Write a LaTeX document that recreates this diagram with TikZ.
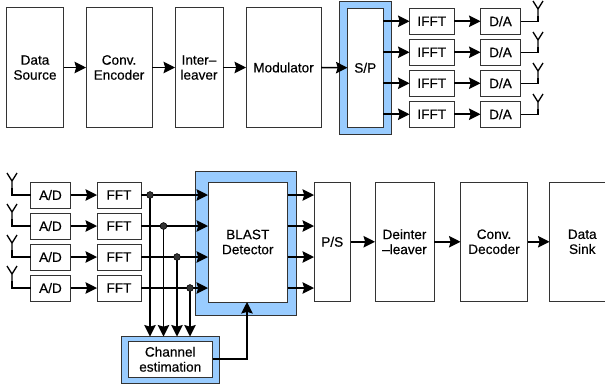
\documentclass[tikz,border=0pt]{standalone}
\usepackage{fontspec}
\setmainfont[FakeBold=0.35]{Liberation Sans}
\usetikzlibrary{arrows.meta}
\definecolor{panel}{HTML}{99CCFF}
\definecolor{edge}{HTML}{333333}
\tikzset{
  blockbox/.style={draw=edge,line width=0.75pt,fill=white,inner sep=0pt,outer sep=0pt,align=center,font=\fontsize{10.2}{11.25}\selectfont},
  panelbox/.style={blockbox,fill=panel},
  flow/.style={draw=black,line width=1.15pt,-{Stealth[length=8.6pt,width=8.6pt,inset=1.2pt]}},
  aerial/.style={draw=black,line width=1pt},
  joint/.style={circle,fill=edge,draw=black,line width=0.3pt,minimum size=5pt,inner sep=0pt}
}
% name, style, x1, y1, x2, y2, text (reference pixels)
\newcommand{\blk}[7]{\node[#2,minimum width={(#5-#3)*0.75pt},minimum height={(#6-#4)*0.75pt}] (#1) at ({(#3+#5)/2},{(#4+#6)/2}) {#7};}
% name, px x, px y of the mast foot
\newcommand{\aer}[3]{%
  \coordinate (#1f) at (#2,#3);
  \coordinate (#1m) at (#2,#3-7);
  \coordinate (#1l) at (#2-5,#3-15);
  \coordinate (#1r) at (#2+5,#3-15);
  \draw[aerial] (#1f) -- (#1m) -- (#1l) (#1m) -- (#1r);}
\begin{document}
\begin{tikzpicture}[x=0.75pt,y=-0.75pt]
\useasboundingbox (0,0) rectangle (605,387);
\clip (0,0) rectangle (605,387);
% transmitter
\blk{src}{blockbox}{6.5}{7.5}{63.5}{127.5}{Data\\Source}
\blk{enc}{blockbox}{86}{7.5}{152}{127.5}{Conv.\\Encoder}
\blk{il}{blockbox}{175}{7.5}{223}{127.5}{Inter–\\leaver}
\blk{mod}{blockbox}{246}{7.5}{321}{127.5}{Modulator}
\blk{spo}{panelbox}{339}{1.5}{391.5}{134}{}
\blk{sp}{blockbox}{347.5}{8}{383}{127.5}{S/P}
\foreach \i/\y in {1/8,2/39,3/70,4/101}{
  \blk{ifft\i}{blockbox}{409.5}{\y}{454}{\y+26.5}{IFFT}
  \blk{da\i}{blockbox}{480.5}{\y}{520.5}{\y+26.5}{D/A}
  \aer{t\i}{538}{\y+13-5}
  \draw[aerial] (da\i.east) -| (t\i f);
  \draw[flow] (ifft\i.east) -- (da\i.west);
  \draw[flow] (sp.east |- ifft\i.west) -- (ifft\i.west);
}
\draw[flow] (src.east) -- (enc.west);
\draw[flow] (enc.east) -- (il.west);
\draw[flow] (il.east) -- (mod.west);
\draw[flow] (mod.east) -- (sp.west);
% receiver
\blk{blo}{panelbox}{195}{171}{296}{315}{}
\blk{bl}{blockbox}{208}{182}{287.5}{302}{BLAST\\Detector}
\blk{ps}{blockbox}{314}{182}{350.5}{301.5}{P/S}
\blk{dil}{blockbox}{375}{182}{434}{301.5}{Deinter\\–leaver}
\blk{dec}{blockbox}{460.5}{182}{527.5}{301.5}{Conv.\\Decoder}
\blk{sink}{blockbox}{549.5}{182}{615}{301.5}{Data\\Sink}
\blk{cho}{panelbox}{121.5}{336.5}{219}{383}{}
\blk{ch}{blockbox}{128}{341.5}{212.5}{377}{Channel\\estimation}
\foreach \i/\y/\x in {1/182/150,2/213/163.5,3/244/177,4/275/190}{
  \blk{ad\i}{blockbox}{30.5}{\y}{70.5}{\y+26}{A/D}
  \blk{fft\i}{blockbox}{97}{\y}{141}{\y+26}{FFT}
  \aer{r\i}{12}{\y+1+5}
  \draw[aerial] (ad\i.west) -| (r\i f);
  \draw[flow] (ad\i.east) -- (fft\i.west);
  \node[joint] (j\i) at (\x,\y+13) {};
  \draw[flow] (fft\i.east) -- (bl.west |- fft\i.east);
  \draw[flow] (j\i.center) -- (j\i.center |- cho.north);
  \node[joint] at (j\i.center) {};
  \draw[flow] (bl.east |- fft\i.east) -- (ps.west |- fft\i.east);
}
\draw[flow] (ps.east) -- (dil.west);
\draw[flow] (dil.east) -- (dec.west);
\draw[flow] (dec.east) -- (sink.west);
\coordinate (up) at (247,302);
\draw[flow] (ch.east) -| (bl.south -| up);
\end{tikzpicture}
\end{document}
